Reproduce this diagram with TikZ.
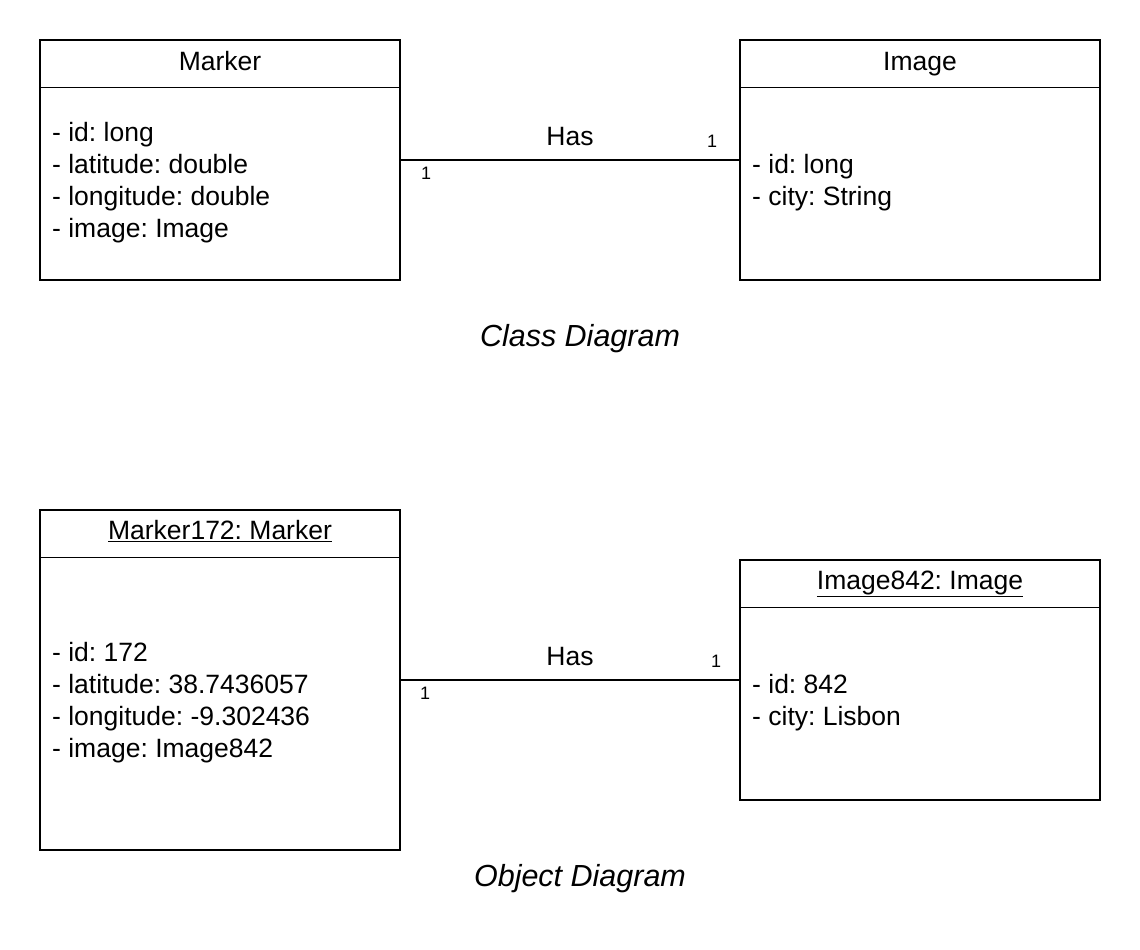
\documentclass[tikz,border=0pt]{standalone}
\usepackage{fontspec}
\setmainfont{Liberation Sans}
\frenchspacing
\begin{document}
\begin{tikzpicture}[x=1pt,y=-1pt,
  umlbox/.style={draw,line width=1.3pt,minimum width=360pt,inner sep=0pt},
  attr/.style={anchor=west,align=left,inner sep=0pt,font=\fontsize{26.5}{32}\selectfont},
  title/.style={anchor=base,inner sep=0pt,font=\fontsize{26.5}{32}\selectfont},
  mult/.style={anchor=base,inner sep=0pt,font=\fontsize{18}{20}\selectfont},
  caption/.style={anchor=base,inner sep=0pt,font=\fontsize{30.5}{36}\selectfont\itshape},
  assoc/.style={line width=1.3pt}]
\useasboundingbox (0,0) rectangle (1140,950);
% Class diagram
\node[umlbox,minimum height=240pt] (mk) at (220,160) {};
\node[umlbox,minimum height=240pt] (im) at (920,160) {};
\draw[line width=1.3pt] ([yshift=-48pt]mk.north west) -- ([yshift=-48pt]mk.north east);
\draw[line width=1.3pt] ([yshift=-48pt]im.north west) -- ([yshift=-48pt]im.north east);
\node[title] (mkt) at (220,70.5) {Marker};
\node[title] (imt) at (920,70.5) {Image};
\node[attr] (mka) at (52,183) {- id: long\\- latitude: double\\- longitude: double\\- image: Image};
\node[attr] (ima) at (752,183) {- id: long\\- city: String};
\draw[assoc] (mk) -- (im);
\node[title] (has1) at (570,145.5) {Has};
\node[mult] (m1a) at (426,179.5) {1};
\node[mult] (m1b) at (712,147.5) {1};
\node[caption] (cap1) at (580,346) {Class Diagram};
% Object diagram
\node[umlbox,minimum height=340pt] (omk) at (220,680) {};
\node[umlbox,minimum height=240pt] (oim) at (920,680) {};
\draw[line width=1.3pt] ([yshift=-48pt]omk.north west) -- ([yshift=-48pt]omk.north east);
\draw[line width=1.3pt] ([yshift=-48pt]oim.north west) -- ([yshift=-48pt]oim.north east);
\node[title] (omkt) at (220,539.5) {\underline{Marker172: Marker}};
\node[title] (oimt) at (920,589.5) {\underline{Image842: Image}};
\node[attr] (omka) at (52,703) {- id: 172\\- latitude: 38.7436057\\- longitude: -9.302436\\- image: Image842};
\node[attr] (oima) at (752,703) {- id: 842\\- city: Lisbon};
\draw[assoc] (omk) -- (oim);
\node[title] (has2) at (570,665.5) {Has};
\node[mult] (m2a) at (425,699.5) {1};
\node[mult] (m2b) at (716,667.5) {1};
\node[caption] (cap2) at (580,886) {Object Diagram};
\end{tikzpicture}
\end{document}
